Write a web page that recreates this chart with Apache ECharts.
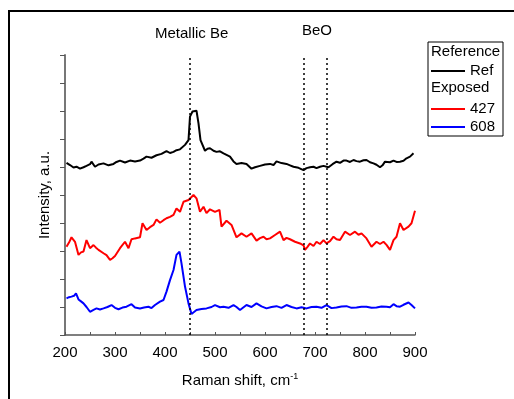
<!DOCTYPE html>
<html>
<head>
<meta charset="utf-8">
<script src="https://cdn.jsdelivr.net/npm/echarts@6/dist/echarts.min.js"></script>
<style>
  html, body { margin: 0; padding: 0; background: #fff; }
  #chart { width: 514px; height: 399px; }
</style>
</head>
<body>
<div id="chart"></div>
<script>
// Raman shift (cm-1) and intensity (a.u., stacked offsets)
const refShift = [203, 210, 217, 223, 230, 237, 243, 250, 253, 260, 267, 277, 287, 297, 303, 310, 320, 330, 340, 350, 357, 363, 373, 383, 393, 403, 410, 417, 423, 430, 440, 447, 450, 455, 463, 467, 471, 480, 485, 490, 497, 503, 510, 517, 530, 537, 543, 553, 563, 573, 580, 590, 600, 610, 617, 623, 633, 643, 650, 657, 667, 677, 683, 690, 697, 703, 710, 717, 727, 735, 743, 750, 757, 763, 770, 777, 783, 790, 797, 803, 810, 817, 823, 830, 835, 840, 850, 857, 863, 870, 877, 883, 890, 897];
const refVal = [6.15, 6.07, 5.98, 6.01, 5.94, 5.99, 6.04, 6.10, 6.19, 6.01, 6.09, 6.13, 6.06, 6.11, 6.18, 6.23, 6.16, 6.23, 6.20, 6.23, 6.30, 6.37, 6.33, 6.42, 6.47, 6.57, 6.50, 6.54, 6.60, 6.63, 6.79, 6.96, 7.80, 7.98, 8.01, 7.56, 6.96, 6.58, 6.65, 6.67, 6.58, 6.54, 6.56, 6.49, 6.37, 6.20, 6.11, 6.14, 6.11, 5.94, 5.99, 6.04, 6.09, 6.11, 6.07, 6.20, 6.14, 6.11, 6.06, 6.01, 5.97, 5.89, 5.96, 5.99, 6.01, 5.96, 6.01, 6.04, 5.99, 6.10, 6.19, 6.15, 6.23, 6.23, 6.18, 6.25, 6.21, 6.19, 6.24, 6.25, 6.17, 6.13, 6.08, 5.99, 6.06, 6.19, 6.17, 6.23, 6.18, 6.19, 6.22, 6.31, 6.37, 6.49];

const exp427Shift = [203, 208, 213, 220, 227, 232, 237, 243, 250, 257, 262, 267, 277, 283, 290, 295, 300, 310, 320, 327, 333, 340, 350, 355, 363, 370, 377, 383, 390, 397, 403, 410, 417, 423, 430, 437, 447, 457, 463, 470, 477, 483, 490, 500, 509, 513, 523, 533, 543, 553, 563, 573, 583, 590, 597, 603, 610, 620, 630, 637, 643, 650, 660, 670, 677, 680, 685, 690, 697, 703, 710, 717, 723, 730, 737, 743, 750, 760, 770, 780, 787, 793, 803, 813, 823, 830, 837, 843, 850, 857, 863, 870, 877, 887, 893, 900];
const exp427Val = [3.15, 3.30, 3.49, 3.33, 2.86, 2.95, 2.98, 3.39, 3.10, 3.21, 3.12, 3.04, 2.92, 2.85, 2.68, 2.74, 2.82, 3.10, 3.33, 3.10, 3.42, 3.45, 3.49, 3.99, 3.75, 3.85, 3.93, 4.13, 4.01, 4.10, 4.17, 4.22, 4.29, 4.52, 4.40, 4.76, 4.82, 5.00, 4.88, 4.40, 4.58, 4.35, 4.49, 4.40, 4.47, 3.87, 4.08, 3.93, 3.49, 3.63, 3.51, 3.63, 3.37, 3.46, 3.51, 3.42, 3.45, 3.57, 3.69, 3.39, 3.47, 3.42, 3.33, 3.27, 3.20, 3.04, 3.15, 3.27, 3.18, 3.33, 3.25, 3.39, 3.27, 3.35, 3.51, 3.42, 3.39, 3.69, 3.57, 3.69, 3.58, 3.63, 3.45, 3.15, 3.33, 3.25, 3.33, 3.22, 3.04, 3.39, 3.51, 3.99, 3.75, 3.87, 3.99, 4.44];

const exp608Shift = [203, 208, 213, 218, 222, 227, 232, 237, 243, 250, 257, 263, 270, 277, 285, 293, 300, 307, 315, 323, 333, 340, 350, 358, 367, 373, 380, 390, 397, 403, 410, 417, 423, 429, 433, 440, 447, 453, 463, 473, 483, 493, 500, 510, 517, 527, 537, 543, 550, 563, 573, 583, 593, 603, 613, 623, 633, 643, 653, 663, 673, 683, 693, 703, 713, 723, 733, 743, 753, 763, 773, 783, 793, 803, 813, 823, 833, 843, 850, 857, 863, 870, 877, 887, 893, 900];
const exp608Val = [1.31, 1.35, 1.37, 1.40, 1.49, 1.27, 1.20, 1.13, 1.00, 0.83, 0.90, 0.95, 0.91, 0.95, 1.00, 1.07, 0.97, 0.92, 0.98, 1.01, 1.10, 0.98, 0.95, 0.98, 1.01, 0.96, 1.07, 1.19, 1.25, 1.55, 1.96, 2.32, 2.86, 2.98, 2.56, 1.73, 1.13, 0.75, 0.89, 0.93, 0.95, 1.00, 1.07, 0.99, 1.01, 0.97, 1.07, 1.00, 0.89, 1.07, 1.00, 1.13, 1.02, 0.95, 1.00, 1.03, 0.97, 1.07, 1.00, 0.95, 0.99, 0.95, 1.00, 1.01, 0.97, 1.07, 0.96, 0.98, 1.02, 1.03, 0.97, 0.98, 1.01, 1.01, 0.97, 0.98, 1.02, 1.01, 0.99, 1.10, 1.03, 1.01, 1.08, 1.16, 1.07, 0.95];

const bandLines = [450, 678, 723];

const font = "'Liberation Sans', Arial, sans-serif";
const pairs = (xs, ys) => xs.map((x, i) => [x, ys[i]]);

const chart = echarts.init(document.getElementById("chart"));
chart.setOption({
  animation: false,
  backgroundColor: "#fff",
  textStyle: { fontFamily: font, color: "#000" },
  grid: { left: 65, right: 99, top: 55, bottom: 64 },
  xAxis: {
    type: "value",
    min: 200,
    max: 900,
    interval: 50,
    name: "Raman shift, cm{sup|-1}",
    nameLocation: "middle",
    nameGap: 37,
    nameTextStyle: {
      fontSize: 15,
      fontFamily: font,
      color: "#000",
      rich: { sup: { fontSize: 9, verticalAlign: "top", padding: [0, 0, 8, 0], fontFamily: font, color: "#000" } },
    },
    axisLine: { lineStyle: { color: "#555", width: 1.5 } },
    axisTick: { inside: true, length: 3, lineStyle: { color: "#555" } },
    axisLabel: {
      fontSize: 15,
      color: "#000",
      fontFamily: font,
      margin: 10,
      formatter: (v) => (v % 100 === 0 ? String(v) : ""),
    },
    splitLine: { show: false },
  },
  yAxis: {
    type: "value",
    min: 0,
    max: 10,
    interval: 1,
    name: "Intensity, a.u.",
    nameLocation: "middle",
    nameGap: 13,
    nameTextStyle: { fontSize: 15, fontFamily: font, color: "#000" },
    axisLine: { show: true, lineStyle: { color: "#777", width: 2 } },
    axisTick: { show: true, length: 5, lineStyle: { color: "#555" } },
    axisLabel: { show: false },
    splitLine: { show: false },
  },
  legend: [
    {
      data: ["Ref"],
      orient: "vertical",
      left: 431,
      top: 62,
      padding: 0,
      itemWidth: 34,
      itemHeight: 2,
      icon: "rect",
      textStyle: { fontSize: 15, fontFamily: font, color: "#000", lineHeight: 18 },
    },
    {
      data: ["427", "608"],
      orient: "vertical",
      left: 431,
      top: 100,
      padding: 0,
      itemGap: 0,
      itemWidth: 34,
      itemHeight: 2,
      icon: "rect",
      textStyle: { fontSize: 15, fontFamily: font, color: "#000", lineHeight: 18 },
    },
  ],
  graphic: [
    { type: "rect", shape: { x: 9, y: 11, width: 700, height: 700 }, style: { fill: "none", stroke: "#000", lineWidth: 2 }, silent: true },
    { type: "rect", shape: { x: 428, y: 42, width: 75, height: 94 }, style: { fill: "#fff", stroke: "#000", lineWidth: 1 }, z: 0 },
    { type: "text", left: 431, top: 44, style: { text: "Reference", font: "15px " + font, fill: "#000" }, z: 10 },
    { type: "text", left: 431, top: 80, style: { text: "Exposed", font: "15px " + font, fill: "#000" }, z: 10 },
    { type: "text", left: 155, top: 26, style: { text: "Metallic Be", font: "15px " + font, fill: "#000" } },
    { type: "text", left: 302, top: 23, style: { text: "BeO", font: "15px " + font, fill: "#000" } },
  ],
  series: [
    {
      name: "Ref",
      type: "line",
      data: pairs(refShift, refVal),
      symbol: "none",
      lineStyle: { color: "#000", width: 2 },
      itemStyle: { color: "#000" },
      markLine: {
        silent: true,
        symbol: "none",
        label: { show: false },
        lineStyle: { color: "#000", type: [2, 3], width: 1.5 },
        data: bandLines.map((v) => ({ xAxis: v })),
      },
    },
    {
      name: "427",
      type: "line",
      data: pairs(exp427Shift, exp427Val),
      symbol: "none",
      lineStyle: { color: "#ff0000", width: 2 },
      itemStyle: { color: "#ff0000" },
    },
    {
      name: "608",
      type: "line",
      data: pairs(exp608Shift, exp608Val),
      symbol: "none",
      lineStyle: { color: "#0000ff", width: 2 },
      itemStyle: { color: "#0000ff" },
    },
  ],
});
</script>
</body>
</html>
